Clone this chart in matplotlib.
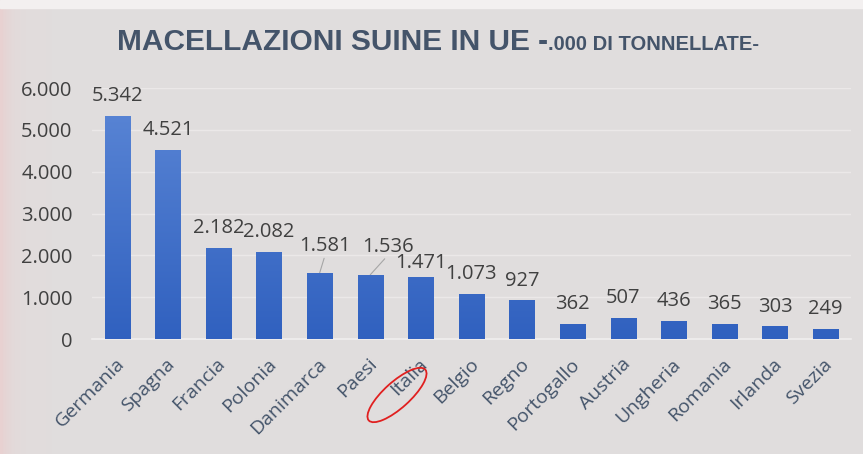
import numpy as np
import matplotlib
matplotlib.use("Agg")
from matplotlib import pyplot as plt
from matplotlib.patches import Ellipse
from matplotlib.transforms import IdentityTransform, ScaledTranslation

countries = ["Germania", "Spagna", "Francia", "Polonia", "Danimarca", "Paesi",
             "Italia", "Belgio", "Regno", "Portogallo", "Austria", "Ungheria",
             "Romania", "Irlanda", "Svezia"]
values = [5342, 4521, 2182, 2082, 1581, 1536, 1471, 1073, 927, 362, 507, 436, 365, 303, 249]
yticks = [0, 1000, 2000, 3000, 4000, 5000, 6000]
ytick_labels = ["0", "1.000", "2.000", "3.000", "4.000", "5.000", "6.000"]

# label offsets in points (dx, dy) for the labels moved by hand in the original
offsets = {4: (4, 12), 5: (13, 13), 6: (0, 3.5)}
leaders = {4, 5}

plt.rcParams['font.family'] = ['Open Sans', 'DejaVu Sans']

fig = plt.figure(figsize=(8.63, 4.54), dpi=100)
fig.patch.set_facecolor('#e1dddd')

# soft background: pinkish at the left edge, lighter strip on top
bg = fig.add_axes([0, 0, 1, 1], zorder=-10)
gx = np.linspace(0, 1, 300)
base = np.array([0.882, 0.867, 0.867])
pink = np.array([0.91, 0.82, 0.82])
w = np.exp(-gx / 0.012)
grad = base * (1 - w[None, :, None]) + pink * w[None, :, None]
grad = np.repeat(grad, 20, axis=0)
bg.imshow(grad, aspect='auto', extent=[0, 1, 0, 1])
bg.axhspan(0.983, 1, color='#f3f0f0')
bg.set_xlim(0, 1)
bg.set_ylim(0, 1)
bg.axis('off')

ax = fig.add_axes([0.1066, 0.2533, 0.8794, 0.5527])
ax.set_facecolor('none')
x = np.arange(len(countries))
bars = ax.bar(x, values, width=0.5, color='#4472c4', zorder=3)

# vertical gradient inside each bar
vg = np.linspace(0, 1, 100)[:, None]
top_c = np.array([0.36, 0.53, 0.84])
bot_c = np.array([0.19, 0.38, 0.75])
gimg = top_c * (1 - vg[..., None]) + bot_c * vg[..., None]
gimg = np.repeat(gimg, 2, axis=1)
for b in bars:
    im = ax.imshow(gimg, extent=[b.get_x(), b.get_x() + b.get_width(), 0, 6000],
                   aspect='auto', zorder=4, interpolation='bilinear')
    im.set_clip_path(b)

ax.set_xlim(-0.5, len(countries) - 0.5)
ax.set_ylim(0, 6000)
ax.set_yticks(yticks)
ax.set_yticklabels(ytick_labels, fontsize=14.5, color='#404040')
ax.yaxis.grid(True, color='#ebe8e8', linewidth=1, zorder=0)
ax.tick_params(axis='y', length=0, pad=14)
ax.tick_params(axis='x', length=0, pad=16)
for s in ['top', 'right', 'left']:
    ax.spines[s].set_visible(False)
ax.spines['bottom'].set_color('#f0eeee')
ax.spines['bottom'].set_linewidth(1.2)

ax.set_xticks(x)
ax.set_xticklabels(countries, rotation=45, ha='right', va='center',
                   rotation_mode='anchor', fontsize=14, color='#44546a')
shift = ScaledTranslation(3 / 72, 0, fig.dpi_scale_trans)
for t in ax.get_xticklabels():
    t.set_transform(t.get_transform() + shift)

for i, v in enumerate(values):
    lbl = f"{v:,}".replace(",", ".")
    dx, dy = offsets.get(i, (0, 7))
    ax.annotate(lbl, (i, v), xytext=(dx, dy), textcoords='offset points',
                ha='center', va='bottom', fontsize=14.5, color='#404040',
                annotation_clip=False, zorder=5)
    if i in leaders:
        ax.annotate("", (i, v), xytext=(dx * 0.8, dy - 1.5), textcoords='offset points',
                    arrowprops=dict(arrowstyle='-', color='#a6a6a6', lw=0.8,
                                    shrinkA=0, shrinkB=0),
                    annotation_clip=False)

# title in two sizes
ty = 1 - 50 / 454
t1 = fig.text(117 / 863, ty, "MACELLAZIONI SUINE IN UE -", fontsize=21.5,
              fontweight='bold', color='#44546a', ha='left', va='baseline',
              family=['Liberation Sans', 'DejaVu Sans'])
fig.canvas.draw()
bb = t1.get_window_extent()
fig.text(bb.x1 / 863, ty, ".000 DI TONNELLATE-", fontsize=14.5,
         fontweight='bold', color='#44546a', ha='left', va='baseline',
         family=['Liberation Sans', 'DejaVu Sans'])

# red ellipse around Italia
ell = Ellipse((397, 454 - 395), 76, 26, angle=42, fill=False, edgecolor='#e02020',
              linewidth=1.3, transform=IdentityTransform())
fig.patches.append(ell)

fig.savefig("out.png", dpi=100, facecolor=fig.get_facecolor())
